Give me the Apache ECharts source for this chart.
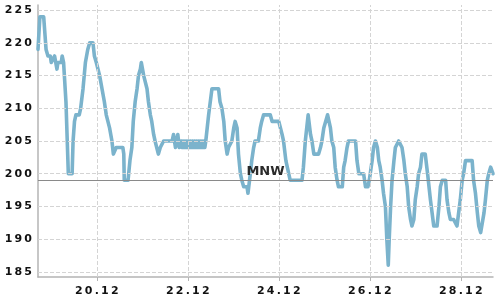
<!DOCTYPE html>
<html>
<head>
<meta charset="utf-8">
<script src="https://cdn.jsdelivr.net/npm/echarts@6/dist/echarts.min.js"></script>
<style>
html,body{margin:0;padding:0;background:#fff;}
#chart{width:500px;height:300px;}
</style>
</head>
<body>
<div id="chart"></div>
<script>
const times = [
'2023-12-18 17:00','2023-12-18 18:00','2023-12-18 20:00','2023-12-18 21:15','2023-12-18 22:15','2023-12-18 23:30',
'2023-12-19 00:00','2023-12-19 01:00','2023-12-19 01:45','2023-12-19 02:15','2023-12-19 03:00','2023-12-19 03:30',
'2023-12-19 05:15','2023-12-19 05:45','2023-12-19 06:30','2023-12-19 07:45','2023-12-19 09:00','2023-12-19 11:00',
'2023-12-19 11:30','2023-12-19 12:15','2023-12-19 13:00','2023-12-19 14:45','2023-12-19 15:30','2023-12-19 16:45',
'2023-12-19 18:00','2023-12-19 19:15','2023-12-19 20:15','2023-12-19 22:00','2023-12-19 22:45','2023-12-19 23:45',
'2023-12-20 00:30','2023-12-20 01:30','2023-12-20 04:00','2023-12-20 05:00','2023-12-20 06:45','2023-12-20 08:00',
'2023-12-20 08:45','2023-12-20 10:15','2023-12-20 13:45','2023-12-20 14:15','2023-12-20 14:30','2023-12-20 16:30',
'2023-12-20 17:30','2023-12-20 18:30','2023-12-20 19:15','2023-12-20 20:15','2023-12-20 21:15','2023-12-20 22:00',
'2023-12-20 23:00','2023-12-20 23:30','2023-12-21 00:45','2023-12-21 01:30','2023-12-21 02:30','2023-12-21 03:15',
'2023-12-21 04:15','2023-12-21 05:00','2023-12-21 06:00','2023-12-21 06:45','2023-12-21 08:30','2023-12-21 09:30',
'2023-12-21 11:15','2023-12-21 15:45','2023-12-21 16:30','2023-12-21 17:30','2023-12-21 18:45','2023-12-21 19:30',
'2023-12-21 20:30','2023-12-21 21:00','2023-12-21 21:30','2023-12-21 22:00','2023-12-21 22:30','2023-12-21 23:00',
'2023-12-21 23:30','2023-12-22 00:00','2023-12-22 00:30','2023-12-22 01:00','2023-12-22 01:30','2023-12-22 02:00',
'2023-12-22 02:30','2023-12-22 03:00','2023-12-22 03:30','2023-12-22 04:00','2023-12-22 04:30','2023-12-22 05:00',
'2023-12-22 05:30','2023-12-22 06:00','2023-12-22 06:30','2023-12-22 07:00','2023-12-22 07:30','2023-12-22 08:00',
'2023-12-22 08:30','2023-12-22 09:00','2023-12-22 09:30','2023-12-22 10:15','2023-12-22 11:00','2023-12-22 12:45',
'2023-12-22 16:15',
'2023-12-22 17:00','2023-12-22 18:00','2023-12-22 19:00','2023-12-22 19:45','2023-12-22 20:45','2023-12-22 21:30',
'2023-12-22 22:30','2023-12-22 23:15','2023-12-23 00:15','2023-12-23 01:00','2023-12-23 02:00','2023-12-23 02:45',
'2023-12-23 03:45','2023-12-23 04:30','2023-12-23 05:30','2023-12-23 07:15','2023-12-23 07:45','2023-12-23 09:00',
'2023-12-23 09:45','2023-12-23 10:45','2023-12-23 11:30','2023-12-23 13:15','2023-12-23 14:15','2023-12-23 15:00',
'2023-12-23 16:00','2023-12-23 19:30','2023-12-23 20:30','2023-12-24 00:00','2023-12-24 01:45','2023-12-24 02:30',
'2023-12-24 03:45','2023-12-24 05:15','2023-12-24 06:00','2023-12-24 12:15','2023-12-24 13:00','2023-12-24 14:00',
'2023-12-24 15:30','2023-12-24 16:00','2023-12-24 16:45','2023-12-24 17:30','2023-12-24 18:30','2023-12-24 21:00',
'2023-12-24 22:00','2023-12-24 22:45','2023-12-24 23:45','2023-12-25 00:30','2023-12-25 01:45','2023-12-25 03:15',
'2023-12-25 04:00','2023-12-25 05:00','2023-12-25 05:45','2023-12-25 06:45','2023-12-25 07:30','2023-12-25 09:30',
'2023-12-25 10:15','2023-12-25 11:00','2023-12-25 12:00','2023-12-25 12:45','2023-12-25 16:30','2023-12-25 17:15',
'2023-12-25 18:15','2023-12-25 20:45','2023-12-25 21:45','2023-12-25 23:00','2023-12-25 23:45','2023-12-26 01:15',
'2023-12-26 02:00','2023-12-26 03:00','2023-12-26 04:00','2023-12-26 04:45','2023-12-26 05:30','2023-12-26 06:30',
'2023-12-26 07:15','2023-12-26 08:15','2023-12-26 09:00','2023-12-26 09:45','2023-12-26 10:15','2023-12-26 11:00',
'2023-12-26 11:45','2023-12-26 12:45','2023-12-26 13:30','2023-12-26 15:15','2023-12-26 16:15','2023-12-26 17:00',
'2023-12-26 18:00','2023-12-26 18:45','2023-12-26 19:45','2023-12-26 20:30','2023-12-26 21:30','2023-12-26 22:15',
'2023-12-26 23:15','2023-12-27 00:00','2023-12-27 01:00','2023-12-27 01:45','2023-12-27 02:45','2023-12-27 03:30',
'2023-12-27 05:15','2023-12-27 06:30','2023-12-27 08:00','2023-12-27 09:45','2023-12-27 11:30','2023-12-27 12:30',
'2023-12-27 13:15','2023-12-27 14:15','2023-12-27 16:00','2023-12-27 16:45','2023-12-27 17:45','2023-12-27 18:30',
'2023-12-27 20:15','2023-12-27 22:00','2023-12-27 23:45','2023-12-28 00:45','2023-12-28 01:30','2023-12-28 02:30',
'2023-12-28 06:00','2023-12-28 06:45','2023-12-28 07:45','2023-12-28 08:45','2023-12-28 09:30','2023-12-28 10:30',
'2023-12-28 11:15','2023-12-28 12:15','2023-12-28 13:00','2023-12-28 14:00','2023-12-28 14:45','2023-12-28 15:45',
'2023-12-28 17:00'
];
const levels = [
219,224,224,219,218,218,
217,217,218,218,216,217,
217,218,217,211,200,200,
205,208,209,209,210,213,
217,219,220,220,218,217,
217,215,211,209,207,205,
203,204,204,203,199,199,
202,204,208,211,213,215,
216,217,215,215,213,211,
209,208,206,205,203,204,
205,205,206,204,206,204,
205,204,205,204,205,204,
205,204,205,204,205,204,
205,204,205,204,205,204,
205,204,205,204,205,204,
205,204,205,205,209,213,
213,
211,210,208,205,203,204,
204,205,207,208,207,203,
200,199,198,198,197,200,
202,204,205,205,207,208,
209,209,208,208,206,205,
202,200,199,199,201,205,
209,209,206,205,203,203,
204,205,207,207,209,207,
205,204,201,199,198,198,
201,202,204,205,205,202,
200,200,198,198,199,202,
204,205,204,202,201,199,
197,195,190,186,190,195,
199,202,204,205,205,204,
202,200,198,195,193,192,
193,196,198,200,201,203,
203,200,196,192,192,195,
198,199,199,196,194,193,
193,192,196,199,200,202,
202,199,197,194,192,191,
191,194,196,199,200,201,
200
];
const mnwLevel = 199;
const mnwLabel = 'MNW';
const xStart = '2023-12-18 17:00';
const xEnd = '2023-12-28 17:00';
const xTickDates = ['2023-12-20 00:00','2023-12-22 00:00','2023-12-24 00:00','2023-12-26 00:00','2023-12-28 00:00'];
const xTickLabels = ['20.12','22.12','24.12','26.12','28.12'];
const yTicks = [185,190,195,200,205,210,215,220,225];
const yMin = 184.2, yMax = 225.8;

const toTs = s => new Date(s.replace(' ', 'T') + ':00').getTime();
const xTickTs = xTickDates.map(toTs);
const spaced = s => String(s).split('').join('\u2009');
const data = times.map((t, i) => [toTs(t), levels[i]]);

const labelFont = {color: '#111', fontFamily: 'DejaVu Sans', fontWeight: 'bold', fontSize: 11};
const gridLines = yTicks.map(v => ({yAxis: v})).concat(xTickTs.map(v => ({xAxis: v})));

const chart = echarts.init(document.getElementById('chart'), null, {renderer: 'canvas'});
chart.setOption({
  animation: false,
  grid: {left: 38, right: 7, top: 5, bottom: 23, containLabel: false},
  xAxis: {
    type: 'value',
    min: toTs(xStart),
    max: toTs(xEnd),
    axisLine: {show: true, lineStyle: {color: '#b4b4b4', width: 1.5}},
    axisTick: {show: true, length: 4, lineStyle: {color: '#b4b4b4'}, customValues: xTickTs},
    axisLabel: Object.assign({
      customValues: xTickTs,
      margin: 9,
      formatter: v => { const i = xTickTs.indexOf(v); return i >= 0 ? spaced(xTickLabels[i]) : ''; }
    }, labelFont),
    splitLine: {show: false}
  },
  yAxis: {
    type: 'value',
    min: yMin,
    max: yMax,
    axisLine: {show: true, lineStyle: {color: '#b4b4b4', width: 1.5}},
    axisTick: {show: false, customValues: yTicks},
    axisLabel: Object.assign({
      customValues: yTicks,
      margin: 6,
      formatter: v => spaced(v)
    }, labelFont),
    splitLine: {show: false}
  },
  series: [{
    type: 'line',
    z: 1,
    data: data,
    showSymbol: false,
    silent: true,
    itemStyle: {color: '#7bb3cc'},
    lineStyle: {width: 0},
    markLine: {
      silent: true,
      symbol: 'none',
      animation: false,
      lineStyle: {color: '#d4d4d4', type: 'dashed', width: 1},
      label: {show: false},
      data: gridLines
    }
  }, {
    type: 'line',
    z: 2,
    data: data,
    showSymbol: false,
    lineStyle: {color: '#7bb3cc', width: 3.6, join: 'round', cap: 'round'},
    markLine: {
      silent: true,
      symbol: 'none',
      animation: false,
      lineStyle: {color: '#8a8a8a', width: 1.2, type: 'solid'},
      label: {
        show: true,
        position: 'insideMiddleTop',
        formatter: mnwLabel,
        color: '#2a2a2a',
        fontFamily: 'DejaVu Sans',
        fontWeight: 'bold',
        fontSize: 13,
        distance: 2
      },
      data: [{yAxis: mnwLevel}]
    }
  }]
});
</script>
</body>
</html>
